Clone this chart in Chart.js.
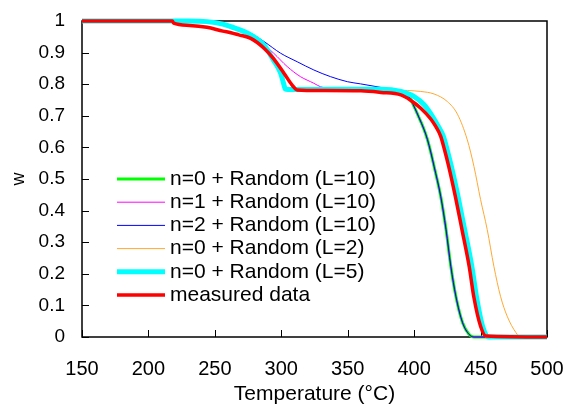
<!DOCTYPE html>
<html lang="en">
<head>
  <meta charset="UTF-8" />
  <title>TGA fit vs measured</title>
  <script src="https://cdn.jsdelivr.net/npm/chart.js"></script>
  <style>
    html, body { margin: 0; padding: 0; background: #fff; }
    #wrap { width: 568px; height: 407px; }
  </style>
</head>
<body>
<div id="wrap"><canvas id="tga"></canvas></div>

<script>
// series data (temperature in °C, w)
const labels = [
  "n=0 + Random (L=10)",
  "n=1 + Random (L=10)",
  "n=2 + Random (L=10)",
  "n=0 + Random (L=2)",
  "n=0 + Random (L=5)",
  "measured data"
];

const tN0L10 = [150, 230, 244, 256, 262, 277, 287, 294, 299.5, 302, 303, 305, 340, 375, 390, 397, 400, 403.8, 407.5, 410, 412.5, 415, 420, 424, 427.6, 431.4, 436.4, 441.4, 445, 500];
const wN0L10 = [1, 1, 0.998, 0.99, 0.982, 0.956, 0.924, 0.877, 0.835, 0.798, 0.785, 0.783, 0.784, 0.784, 0.772, 0.755, 0.729, 0.693, 0.656, 0.625, 0.585, 0.54, 0.445, 0.34, 0.224, 0.129, 0.046, 0.008, 0, 0];

const tN1L10 = [150, 230, 244, 256, 262, 277, 284.3, 294.3, 304.4, 314.4, 324.5, 329.5, 340, 375, 390, 397, 400, 403.8, 407.5, 410, 412.5, 415, 420, 424, 427.6, 431.4, 436.4, 441.4, 445, 500];
const wN1L10 = [1, 1, 0.998, 0.99, 0.982, 0.958, 0.935, 0.898, 0.856, 0.824, 0.803, 0.792, 0.786, 0.784, 0.772, 0.755, 0.729, 0.693, 0.656, 0.625, 0.585, 0.54, 0.445, 0.34, 0.224, 0.129, 0.046, 0.008, 0, 0];

const tN2L10 = [150, 230, 244, 256, 262, 277, 287, 299.5, 312, 324.5, 337, 349.7, 359.7, 374.8, 385, 390, 397, 400, 403.8, 407.5, 410, 412.5, 415, 420, 424, 427.6, 431.4, 436.4, 441.4, 445, 500];
const wN2L10 = [1, 1, 0.998, 0.99, 0.982, 0.961, 0.935, 0.898, 0.871, 0.845, 0.824, 0.808, 0.801, 0.79, 0.782, 0.772, 0.755, 0.729, 0.693, 0.656, 0.625, 0.585, 0.54, 0.445, 0.34, 0.224, 0.129, 0.046, 0.008, 0, 0];

const tN0L2 = [150, 230, 244, 256, 262, 277, 287, 294, 299.5, 302, 303, 305, 340, 395, 405, 415, 425, 432.6, 440, 445, 450, 455, 460, 465, 470, 476.6, 480, 500];
const wN0L2 = [1, 1, 0.998, 0.99, 0.982, 0.956, 0.924, 0.877, 0.835, 0.798, 0.785, 0.783, 0.784, 0.78, 0.777, 0.769, 0.745, 0.705, 0.624, 0.54, 0.435, 0.34, 0.224, 0.129, 0.066, 0.014, 0, 0];

const tN0L5 = [150, 230, 244, 256, 262, 277, 287, 294, 299.5, 302, 303, 305, 340, 375, 390, 400, 407.5, 415, 418, 422, 425, 428, 433, 438, 443.4, 447, 451.5, 456, 500];
const wN0L5 = [1, 1, 0.998, 0.99, 0.982, 0.956, 0.924, 0.877, 0.835, 0.798, 0.785, 0.783, 0.784, 0.784, 0.777, 0.761, 0.735, 0.69, 0.668, 0.635, 0.59, 0.54, 0.445, 0.34, 0.224, 0.125, 0.034, 0, 0];

const tMeas = [150, 218, 219, 231, 244, 256, 262, 268, 277, 287, 294, 302, 308, 312, 330, 360, 375, 390, 397, 405, 412.5, 416, 420, 423, 426, 431, 436, 441.4, 445, 450, 454, 500];
const wMeas = [1, 1, 0.993, 0.986, 0.98, 0.968, 0.963, 0.956, 0.945, 0.914, 0.882, 0.835, 0.798, 0.782, 0.78, 0.779, 0.774, 0.766, 0.75, 0.724, 0.69, 0.668, 0.635, 0.59, 0.54, 0.445, 0.34, 0.224, 0.125, 0.034, 0.003, 0];

const xTicks = [150, 200, 250, 300, 350, 400, 450, 500];
const yTicks = [0, 0.1, 0.2, 0.3, 0.4, 0.5, 0.6, 0.7, 0.8, 0.9, 1];

const FONT = "'Liberation Sans', Arial, sans-serif";

function pts(t, w) {
  return t.map((v, i) => ({ x: v, y: w[i] }));
}

function series(i, t, w, color, width, order) {
  return {
    label: labels[i],
    data: pts(t, w),
    borderColor: color,
    backgroundColor: color,
    borderWidth: width,
    pointRadius: 0,
    cubicInterpolationMode: 'monotone',
    clip: false,
    order: order
  };
}

// box frame + inward tick marks, under the curves
const framePlugin = {
  id: 'frame',
  beforeDatasetsDraw(chart) {
    const { ctx, chartArea: a, scales } = chart;
    ctx.save();
    ctx.strokeStyle = '#000';
    ctx.lineWidth = 1.5;
    ctx.strokeRect(a.left, a.top, a.right - a.left, a.bottom - a.top);
    ctx.lineWidth = 1;
    ctx.beginPath();
    xTicks.forEach(v => {
      const px = Math.round(scales.x.getPixelForValue(v)) + 0.5;
      ctx.moveTo(px, a.bottom);
      ctx.lineTo(px, a.bottom - 7);
    });
    yTicks.forEach(v => {
      const py = Math.round(scales.y.getPixelForValue(v)) + 0.5;
      ctx.moveTo(a.left, py);
      ctx.lineTo(a.left + 7, py);
    });
    ctx.stroke();
    ctx.restore();
  }
};

// legend inside the plot, lower left
const legendPlugin = {
  id: 'boxLegend',
  afterDraw(chart) {
    const { ctx } = chart;
    const x0 = 117, x1 = 165, tx = 170, y0 = 179, dy = 23.2;
    ctx.save();
    ctx.font = '21px ' + FONT;
    ctx.textBaseline = 'middle';
    ctx.fillStyle = '#000';
    chart.data.datasets.forEach((ds, i) => {
      const y = y0 + i * dy;
      ctx.strokeStyle = ds.borderColor;
      ctx.lineWidth = ds.borderWidth;
      ctx.beginPath();
      ctx.moveTo(x0, y);
      ctx.lineTo(x1, y);
      ctx.stroke();
      ctx.fillText(ds.label, tx, y);
    });
    ctx.restore();
  }
};

new Chart(document.getElementById('tga'), {
  type: 'line',
  data: {
    datasets: [
      series(0, tN0L10, wN0L10, '#00FF00', 3, 6),
      series(1, tN1L10, wN1L10, '#FF00FF', 1, 5),
      series(2, tN2L10, wN2L10, '#0000FF', 1, 4),
      series(3, tN0L2, wN0L2, '#FFA833', 1, 3),
      series(4, tN0L5, wN0L5, '#00FFFF', 5, 2),
      series(5, tMeas, wMeas, '#FF0000', 3.5, 1)
    ]
  },
  options: {
    responsive: true,
    maintainAspectRatio: false,
    animation: false,
    layout: { padding: { top: 21, right: 21, left: 0, bottom: 0 } },
    plugins: { legend: { display: false }, tooltip: { enabled: false } },
    scales: {
      x: {
        type: 'linear',
        min: 150, max: 500,
        afterBuildTicks: s => { s.ticks = xTicks.map(v => ({ value: v })); },
        afterFit: s => { s.height = 70; s.paddingLeft = 0; s.paddingRight = 0; },
        grid: { display: false, drawTicks: false },
        border: { display: false },
        ticks: { color: '#000', font: { family: FONT, size: 20 }, padding: 20, maxRotation: 0 },
        title: { display: true, text: 'Temperature (°C)', color: '#000', font: { family: FONT, size: 21 }, padding: { top: 0, bottom: 0 } }
      },
      y: {
        min: 0, max: 1,
        afterBuildTicks: s => { s.ticks = yTicks.map(v => ({ value: v })); },
        afterFit: s => { s.width = 82; s.paddingTop = 0; s.paddingBottom = 0; },
        grid: { display: false, drawTicks: false },
        border: { display: false },
        ticks: {
          color: '#000', font: { family: FONT, size: 19 }, padding: 17,
          callback: v => String(Math.round(v * 10) / 10)
        },
        title: { display: true, text: 'w', color: '#000', font: { family: FONT, size: 18 }, padding: { top: 8, bottom: 0 } }
      }
    }
  },
  plugins: [framePlugin, legendPlugin]
});
</script>
</body>
</html>
